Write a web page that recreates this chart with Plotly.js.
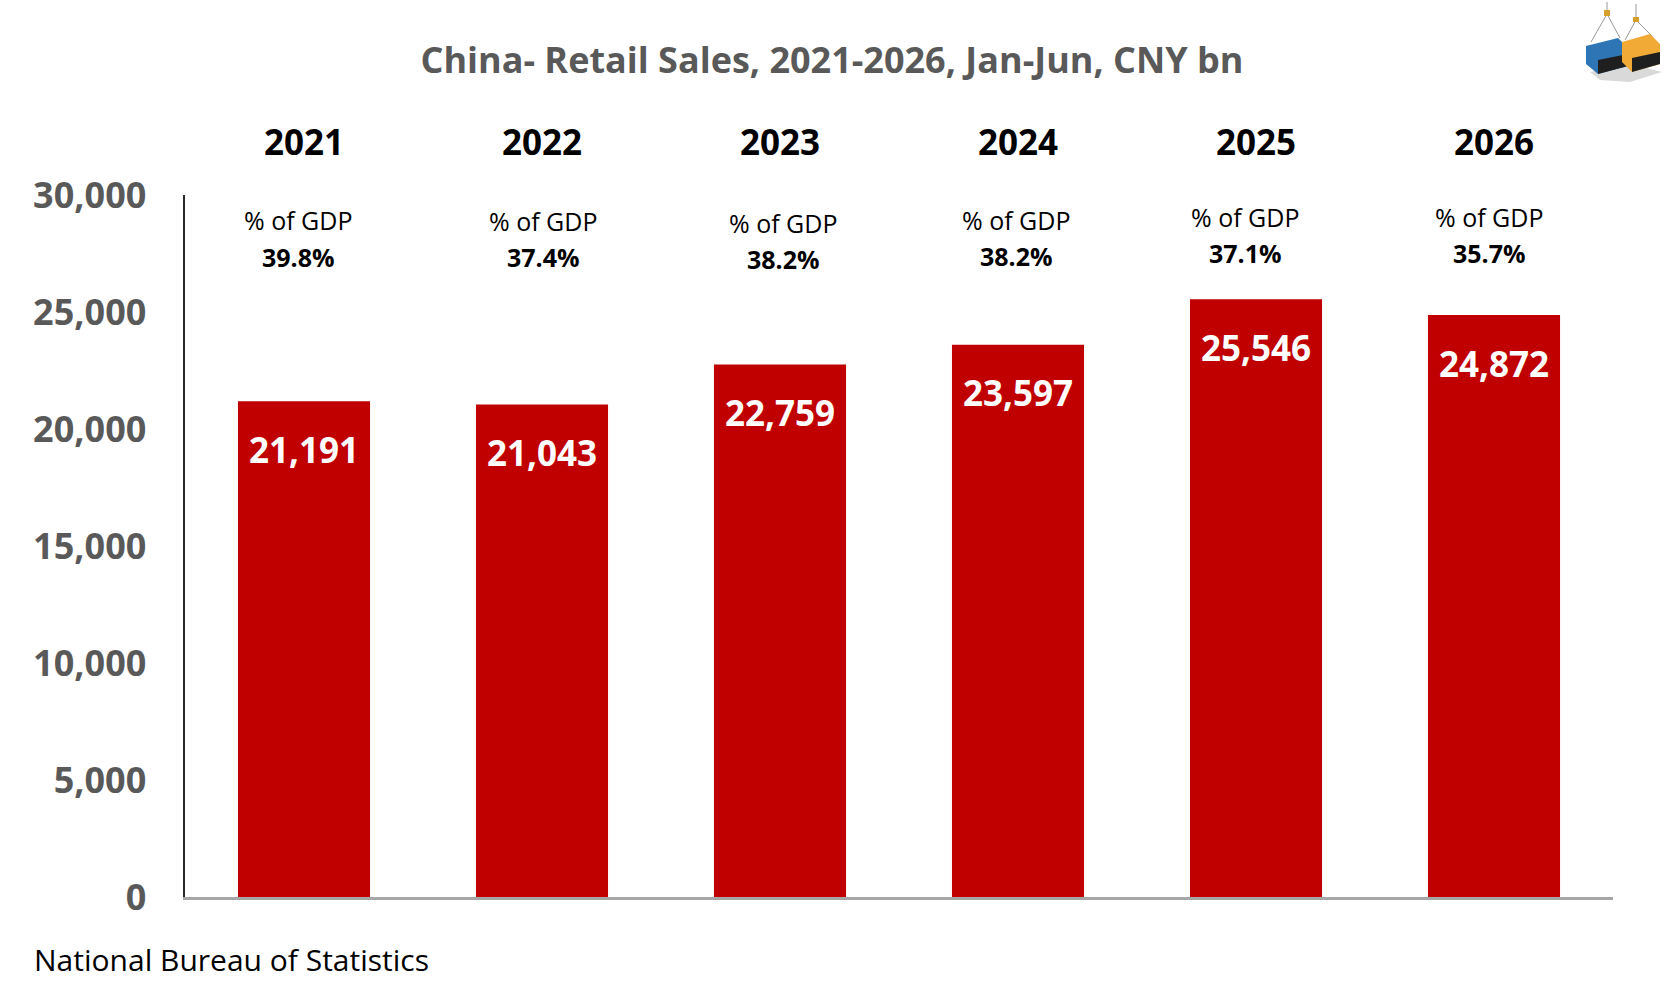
<!DOCTYPE html>
<html>
<head>
<meta charset="utf-8">
<script src="https://cdn.plot.ly/plotly-3.0.1.min.js"></script>
<style>
html,body{margin:0;padding:0;background:#fff;}
#chart{width:1665px;height:990px;}
</style>
</head>
<body>
<div id="chart"></div>
<script>
// ---- data ----
const years = ["2021", "2022", "2023", "2024", "2025", "2026"];
const retailSales = [21191, 21043, 22759, 23597, 25546, 24872];
const gdpShare = ["39.8%", "37.4%", "38.2%", "38.2%", "37.1%", "35.7%"];
const yTickVals = [0, 5000, 10000, 15000, 20000, 25000, 30000];
const yTickText = ["0", "5,000", "10,000", "15,000", "20,000", "25,000", "30,000"];
const titleText = "China- Retail Sales, 2021-2026, Jan-Jun, CNY bn";
const sourceText = "National Bureau of Statistics";
const gdpLabelText = "% of GDP";

// ---- layout helpers (pixel -> paper) ----
const W = 1665, H = 990;
const M = {l: 185, r: 52, t: 195, b: 93};
const PW = W - M.l - M.r, PH = H - M.t - M.b;
const px = x => (x - M.l) / PW;
const py = y => (H - M.b - y) / PH;

const FONT = "Open Sans, Noto Sans, DejaVu Sans, sans-serif";
const RED = "#C00000";

// per-label small placement tweaks (layout only)
const gdpXShift = [-6, 1, 3, -2, -11, -5];
const gdpLabelY = [220, 221, 223, 220, 217, 217];
const gdpValueY = [257, 257, 259, 256, 253, 253];

const annotations = [];
years.forEach((yr, i) => {
  // year header (x = category index on the category axis)
  annotations.push({
    x: i, xref: "x", y: py(141), yref: "paper", text: "<b>" + yr + "</b>",
    showarrow: false, xanchor: "center", yanchor: "middle",
    font: {family: FONT, size: 35, color: "#000000"}
  });
  // % of GDP label
  annotations.push({
    x: i, xref: "x", y: py(gdpLabelY[i]), yref: "paper", text: gdpLabelText,
    showarrow: false, xanchor: "center", yanchor: "middle", xshift: gdpXShift[i],
    font: {family: FONT, size: 25, color: "#000000"}
  });
  annotations.push({
    x: i, xref: "x", y: py(gdpValueY[i]), yref: "paper", text: "<b>" + gdpShare[i] + "</b>",
    showarrow: false, xanchor: "center", yanchor: "middle", xshift: gdpXShift[i],
    font: {family: FONT, size: 25, color: "#000000"}
  });
  // value label inside bar
  annotations.push({
    x: i, xref: "x", y: retailSales[i], yref: "y",
    text: "<b>" + retailSales[i].toLocaleString("en-US") + "</b>",
    showarrow: false, xanchor: "center", yanchor: "middle", yshift: -48,
    font: {family: FONT, size: 35, color: "#FFFFFF"}
  });
});

// source
annotations.push({
  x: px(32), xref: "paper", y: py(960), yref: "paper", text: sourceText,
  showarrow: false, xanchor: "left", yanchor: "middle",
  font: {family: FONT, size: 30, color: "#000000"}
});

// ---- logo (decorative shapes, pixel coords converted to paper) ----
function pathFrom(pts) {
  return "M " + pts.map(p => px(p[0]).toFixed(5) + "," + py(p[1]).toFixed(5)).join(" L ") + " Z";
}
function line(x0, y0, x1, y1, color, w) {
  return {type: "line", xref: "paper", yref: "paper", x0: px(x0), y0: py(y0), x1: px(x1), y1: py(y1),
          line: {color: color, width: w}};
}
function poly(pts, fill) {
  return {type: "path", xref: "paper", yref: "paper", path: pathFrom(pts),
          fillcolor: fill, line: {width: 0}};
}
const shapes = [
  poly([[1590, 72], [1630, 64], [1662, 72], [1630, 82], [1600, 80]], "#d9d9d9"),
  line(1607, 2, 1607, 14, "#bbbbbb", 1.5),
  line(1607, 14, 1591, 42, "#999999", 1),
  line(1607, 14, 1620, 38, "#999999", 1),
  line(1636, 4, 1636, 20, "#bbbbbb", 1.5),
  line(1636, 20, 1625, 40, "#999999", 1),
  line(1636, 20, 1652, 36, "#999999", 1),
  poly([[1604, 10], [1610, 10], [1610, 16], [1604, 16]], "#d4a02a"),
  poly([[1633, 17], [1639, 17], [1639, 22], [1633, 22]], "#d4a02a"),
  poly([[1586, 46], [1618, 38], [1628, 48], [1628, 66], [1598, 74], [1586, 64]], "#2e75b6"),
  poly([[1598, 60], [1628, 54], [1628, 66], [1598, 74]], "#1f1f1f"),
  poly([[1622, 42], [1650, 34], [1660, 44], [1660, 64], [1632, 72], [1622, 62]], "#f0aa35"),
  poly([[1632, 58], [1660, 52], [1660, 64], [1632, 72]], "#1f1f1f")
];

const trace = {
  type: "bar",
  x: years,
  y: retailSales,
  marker: {color: RED, line: {width: 0}},
  hoverinfo: "x+y"
};

const layout = {
  width: W, height: H,
  margin: M,
  paper_bgcolor: "#FFFFFF",
  plot_bgcolor: "#FFFFFF",
  showlegend: false,
  bargap: 0.445,
  title: {
    text: "<b>" + titleText + "</b>",
    x: 832 / W, xref: "container", xanchor: "center",
    y: 1 - 60 / H, yref: "container", yanchor: "middle",
    font: {family: FONT, size: 36, color: "#595959"}
  },
  xaxis: {
    type: "category",
    range: [-0.5, years.length - 0.5],
    showticklabels: false,
    showgrid: false, zeroline: false,
    showline: true, linecolor: "#A6A6A6", linewidth: 3,
    ticks: "",
    fixedrange: true
  },
  yaxis: {
    range: [0, 30000],
    tickvals: yTickVals, ticktext: yTickText,
    showgrid: false, zeroline: false,
    showline: true, linecolor: "#262626", linewidth: 2.5,
    ticks: "",
    ticklabelstandoff: 29,
    tickfont: {family: FONT, size: 36, color: "#595959", weight: "bold"},
    fixedrange: true
  },
  annotations: annotations,
  shapes: shapes
};

Plotly.newPlot("chart", [trace], layout, {displayModeBar: false, staticPlot: true});
</script>
</body>
</html>
